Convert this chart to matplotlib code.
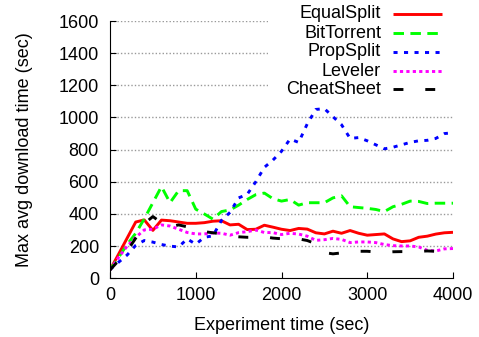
import matplotlib
matplotlib.use("Agg")
import matplotlib.pyplot as plt
from matplotlib.lines import Line2D
from matplotlib.patches import Rectangle

plt.rcParams['font.family'] = ['Liberation Sans', 'DejaVu Sans']

# experiment time, one sample every 100 s
t = list(range(0, 4001, 100))

equal_split = [52, 150, 250, 350, 363, 298, 362, 358, 350, 342, 342, 346, 355, 358,
               332, 336, 303, 305, 330, 318, 305, 297, 310, 306, 283, 276, 293, 280,
               297, 280, 268, 272, 276, 245, 228, 233, 255, 262, 275, 283, 286]
bit_torrent = [52, 130, 210, 280, 370, 470, 570, 470, 545, 545, 430, 400, 368, 415,
               425, 455, 490, 520, 530, 495, 480, 490, 455, 470, 470, 470, 500, 513,
               445, 440, 435, 428, 415, 445, 460, 480, 478, 465, 467, 467, 467]
prop_split = [55, 100, 145, 205, 235, 225, 210, 200, 195, 245, 212, 255, 264, 360,
              410, 500, 522, 600, 690, 735, 790, 866, 845, 960, 1050, 1055, 1005, 955,
              870, 875, 855, 830, 805, 815, 830, 845, 855, 858, 870, 900, 905]
leveler = [52, 130, 200, 255, 301, 305, 332, 325, 305, 285, 276, 276, 282, 280,
           268, 284, 290, 300, 285, 284, 272, 280, 275, 262, 236, 240, 248, 242,
           222, 226, 226, 222, 210, 203, 201, 201, 195, 174, 170, 183, 185]
cheat_sheet = [52, 110, 170, 250, 340, 384, 345, 320, 332, 320, 305, 290, 283, 276,
               262, 258, 255, 255, 258, 250, 246, 248, 245, 235, 215, 160, 152, 158,
               162, 168, 168, 164, 162, 165, 166, 166, 168, 170, 168, 175, 178]

names = ["EqualSplit", "BitTorrent", "PropSplit", "Leveler", "CheatSheet"]
series = [equal_split, bit_torrent, prop_split, leveler, cheat_sheet]
styles = [
    dict(color="#ff0000", lw=2.1, ls="-"),
    dict(color="#00ff00", lw=2.1, ls=(0, (3.6, 2.2))),
    dict(color="#0000ff", lw=2.1, ls=(0, (1.4, 2.2))),
    dict(color="#ff00ff", lw=2.1, ls=(0, (1.1, 1.1))),
    dict(color="#000000", lw=2.1, ls=(0, (3.4, 7.5))),
]
fs = 13

fig = plt.figure(figsize=(4.79, 3.37), dpi=100)
ax = fig.add_axes([110 / 479, 1 - 278.3 / 337, 343 / 479, 257.3 / 337])

ax.set_xlim(0, 4000)
ax.set_ylim(0, 1600)
ax.set_xticks([0, 1000, 2000, 3000, 4000])
ax.set_yticks(range(0, 1601, 200))
ax.tick_params(direction="in", length=4, labelsize=fs, top=False, right=False)
ax.tick_params(axis="y", pad=8)
ax.tick_params(axis="x", pad=6)
for s in ["top", "right"]:
    ax.spines[s].set_visible(False)

for y in range(200, 1601, 200):
    ax.axhline(y, color="#999999", lw=1.0, ls=(0, (1, 1.5)), zorder=0)

for vals, st in zip(series, styles):
    ax.plot(t, vals, dash_capstyle="butt", solid_capstyle="butt", **st)

ax.set_xlabel("Experiment time (sec)", fontsize=fs)
ax.set_ylabel("Max avg download time (sec)", fontsize=fs)
ax.xaxis.set_label_coords(0.5, -0.15)
ax.yaxis.set_label_coords(-0.225, 0.5)

# key box, blanks the grid behind it
fig.patches.append(Rectangle((268 / 479, 1 - 100 / 337), 1, 1, transform=fig.transFigure,
                             facecolor="white", edgecolor="none", zorder=2))
rows = [14, 33, 52, 71, 89]
for name, st, r in zip(names, styles, rows):
    yf = 1 - r / 337
    fig.text(381 / 479, yf, name, ha="right", va="center", fontsize=fs, zorder=3)
    fig.lines.append(Line2D([393 / 479, 442 / 479], [yf, yf], transform=fig.transFigure,
                            dash_capstyle="butt", solid_capstyle="butt", zorder=3, **st))

fig.savefig("out.png", dpi=100)
